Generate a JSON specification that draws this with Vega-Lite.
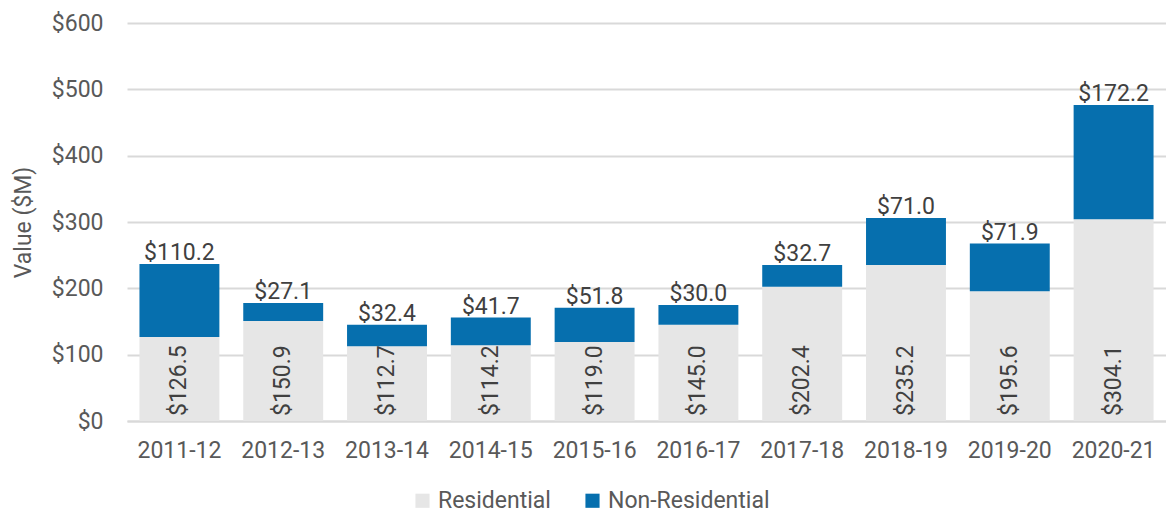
{
  "$schema": "https://vega.github.io/schema/vega-lite/v6.json",
  "width": 1166,
  "height": 512,
  "autosize": {"type": "fit", "contains": "padding"},
  "padding": {"left": 12, "right": 0, "top": 12, "bottom": 50},
  "config": {
    "font": "Roboto",
    "view": {"stroke": null},
    "axis": {"labelFont": "Roboto", "titleFont": "Roboto", "labelColor": "#595959", "titleColor": "#595959"},
    "legend": {"labelFont": "Roboto"}
  },
  "data": {
    "values": [
      {"year": "2011-12", "Residential": 126.5, "Non-Residential": 110.2},
      {"year": "2012-13", "Residential": 150.9, "Non-Residential": 27.1},
      {"year": "2013-14", "Residential": 112.7, "Non-Residential": 32.4},
      {"year": "2014-15", "Residential": 114.2, "Non-Residential": 41.7},
      {"year": "2015-16", "Residential": 119.0, "Non-Residential": 51.8},
      {"year": "2016-17", "Residential": 145.0, "Non-Residential": 30.0},
      {"year": "2017-18", "Residential": 202.4, "Non-Residential": 32.7},
      {"year": "2018-19", "Residential": 235.2, "Non-Residential": 71.0},
      {"year": "2019-20", "Residential": 195.6, "Non-Residential": 71.9},
      {"year": "2020-21", "Residential": 304.1, "Non-Residential": 172.2}
    ]
  },
  "transform": [
    {"fold": ["Residential", "Non-Residential"], "as": ["type", "value"]},
    {"joinaggregate": [{"op": "sum", "field": "value", "as": "total"}], "groupby": ["year"]}
  ],
  "encoding": {
    "x": {
      "field": "year", "type": "nominal", "sort": null,
      "scale": {"paddingInner": 0.23, "paddingOuter": 0.12},
      "axis": {"title": null, "labelAngle": 0, "labelFontSize": 23, "labelPadding": 18, "ticks": false, "domainColor": "#d9d9d9", "domainWidth": 2}
    }
  },
  "layer": [
    {
      "mark": {"type": "bar"},
      "encoding": {
        "y": {
          "field": "value", "type": "quantitative", "stack": "zero",
          "scale": {"domain": [0, 600]},
          "axis": {"title": "Value ($M)", "titleFontSize": 23, "titleFontWeight": "normal", "titlePadding": 16, "labelFontSize": 23, "labelPadding": 24, "values": [0, 100, 200, 300, 400, 500, 600], "labelExpr": "'$' + datum.value", "gridColor": "#d9d9d9", "gridWidth": 2, "domain": false, "ticks": false}
        },
        "color": {
          "field": "type", "type": "nominal",
          "scale": {"domain": ["Residential", "Non-Residential"], "range": ["#e6e6e6", "#066fae"]},
          "legend": {"title": null, "orient": "none", "legendX": 284, "legendY": 466, "direction": "horizontal", "symbolType": "square", "symbolSize": 200, "symbolStrokeWidth": 0, "labelFontSize": 23, "labelLimit": 400, "labelColor": "#595959", "columnPadding": 30}
        },
        "order": {"field": "type", "sort": "descending"}
      }
    },
    {
      "transform": [{"filter": "datum.type == 'Residential'"}],
      "mark": {"type": "text", "angle": 270, "align": "left", "baseline": "middle", "dx": 5, "fontSize": 23, "color": "#404040"},
      "encoding": {
        "y": {"datum": 0, "type": "quantitative"},
        "text": {"field": "value", "type": "quantitative", "format": "$.1f"}
      }
    },
    {
      "transform": [{"filter": "datum.type == 'Non-Residential'"}],
      "mark": {"type": "text", "baseline": "bottom", "dy": 1, "fontSize": 23, "color": "#404040"},
      "encoding": {
        "y": {"field": "total", "type": "quantitative"},
        "text": {"field": "value", "type": "quantitative", "format": "$.1f"}
      }
    }
  ]
}
